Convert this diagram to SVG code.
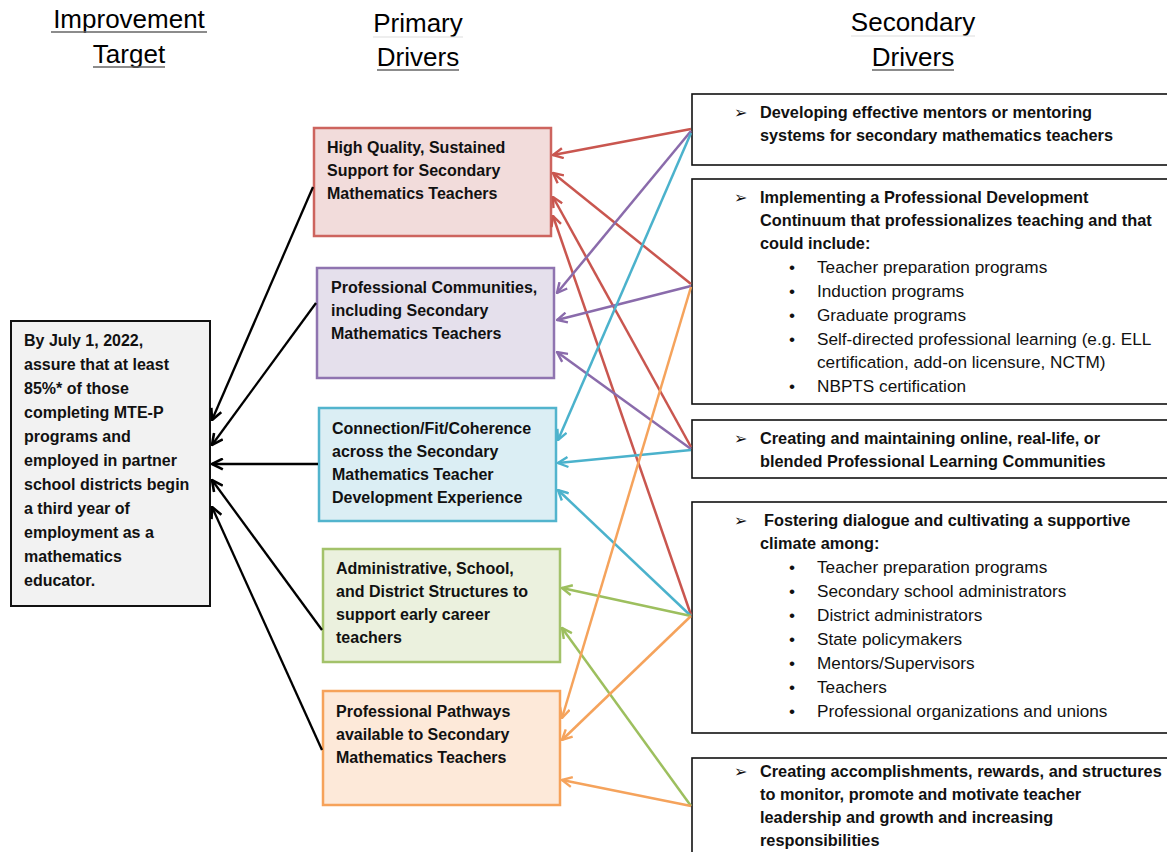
<svg xmlns="http://www.w3.org/2000/svg" width="1167" height="852" viewBox="0 0 1167 852">
<style>
.hdr{font-family:"Liberation Sans",Arial,sans-serif;font-size:26px;fill:#000}
.ul{stroke:#666;stroke-width:1.3}
.tb{font-family:"Liberation Sans",Arial,sans-serif;font-size:16px;font-weight:bold;fill:#111}
.sb{font-family:"Liberation Sans",Arial,sans-serif;font-size:16.3px;font-weight:bold;fill:#111}
.sr{font-family:"Liberation Sans",Arial,sans-serif;font-size:17.2px;fill:#111}
.arr{font-family:"DejaVu Sans",sans-serif;font-size:16px;fill:#111}
.sec{fill:#fff;stroke:#111;stroke-width:1.6}
.c{fill:none;stroke-width:2.5}
</style>
<defs>
<marker id="mk" viewBox="0 0 12 12" refX="11" refY="6" markerWidth="13" markerHeight="13" markerUnits="userSpaceOnUse" orient="auto"><path d="M1,1 L11,6 L1,11" fill="none" stroke="#000" stroke-width="2.4"/></marker>
<marker id="mr" viewBox="0 0 12 12" refX="11" refY="6" markerWidth="12" markerHeight="12" markerUnits="userSpaceOnUse" orient="auto"><path d="M1,1 L11,6 L1,11" fill="none" stroke="#c9564f" stroke-width="2.4"/></marker>
<marker id="mp" viewBox="0 0 12 12" refX="11" refY="6" markerWidth="12" markerHeight="12" markerUnits="userSpaceOnUse" orient="auto"><path d="M1,1 L11,6 L1,11" fill="none" stroke="#8a6bab" stroke-width="2.4"/></marker>
<marker id="mb" viewBox="0 0 12 12" refX="11" refY="6" markerWidth="12" markerHeight="12" markerUnits="userSpaceOnUse" orient="auto"><path d="M1,1 L11,6 L1,11" fill="none" stroke="#4bb2cc" stroke-width="2.4"/></marker>
<marker id="mg" viewBox="0 0 12 12" refX="11" refY="6" markerWidth="12" markerHeight="12" markerUnits="userSpaceOnUse" orient="auto"><path d="M1,1 L11,6 L1,11" fill="none" stroke="#9dbf5e" stroke-width="2.4"/></marker>
<marker id="mo" viewBox="0 0 12 12" refX="11" refY="6" markerWidth="12" markerHeight="12" markerUnits="userSpaceOnUse" orient="auto"><path d="M1,1 L11,6 L1,11" fill="none" stroke="#f5a35c" stroke-width="2.4"/></marker>
</defs>
<rect width="1167" height="852" fill="#fff"/>

<g id="headers">
<text class="hdr" x="129" y="28" text-anchor="middle">Improvement</text>
<line class="ul" x1="51" y1="32" x2="207" y2="32"/>
<text class="hdr" x="129" y="63" text-anchor="middle">Target</text>
<line class="ul" x1="93" y1="67" x2="165" y2="67"/>
<text class="hdr" x="418" y="32" text-anchor="middle">Primary</text>
<line stroke="#ddd" stroke-width="1" x1="373" y1="37" x2="463" y2="37"/>
<text class="hdr" x="418" y="66" text-anchor="middle">Drivers</text>
<line class="ul" x1="377" y1="70" x2="459" y2="70"/>
<text class="hdr" x="913" y="31" text-anchor="middle">Secondary</text>
<line stroke="#ddd" stroke-width="1" x1="851" y1="36" x2="975" y2="36"/>
<text class="hdr" x="913" y="66" text-anchor="middle">Drivers</text>
<line class="ul" x1="872" y1="70" x2="954" y2="70"/>
</g>

<g id="target">
<rect x="11" y="321" width="199" height="285" fill="#f2f2f2" stroke="#111" stroke-width="2"/>
<text class="tb" x="24">
<tspan x="24" y="346">By July 1, 2022,</tspan>
<tspan x="24" y="370">assure that at least</tspan>
<tspan x="24" y="394">85%* of those</tspan>
<tspan x="24" y="418">completing MTE-P</tspan>
<tspan x="24" y="442">programs and</tspan>
<tspan x="24" y="466">employed in partner</tspan>
<tspan x="24" y="490">school districts begin</tspan>
<tspan x="24" y="514">a third year of</tspan>
<tspan x="24" y="538">employment as a</tspan>
<tspan x="24" y="562">mathematics</tspan>
<tspan x="24" y="586">educator.</tspan>
</text>
</g>

<g id="p1">
<rect x="314" y="128" width="237" height="108" fill="#f2dcdb" stroke="#cd645e" stroke-width="2.5"/>
<text class="tb"><tspan x="327" y="153">High Quality, Sustained</tspan><tspan x="327" y="176">Support for Secondary</tspan><tspan x="327" y="199">Mathematics Teachers</tspan></text>
</g>
<g id="p2">
<rect x="317" y="268" width="237" height="110" fill="#e5e0ec" stroke="#8f74b0" stroke-width="2.5"/>
<text class="tb"><tspan x="331" y="293">Professional Communities,</tspan><tspan x="331" y="316">including Secondary</tspan><tspan x="331" y="339">Mathematics Teachers</tspan></text>
</g>
<g id="p3">
<rect x="319" y="408" width="237" height="113" fill="#dbeef4" stroke="#52b4cd" stroke-width="2.5"/>
<text class="tb"><tspan x="332" y="434">Connection/Fit/Coherence</tspan><tspan x="332" y="457">across the Secondary</tspan><tspan x="332" y="480">Mathematics Teacher</tspan><tspan x="332" y="503">Development Experience</tspan></text>
</g>
<g id="p4">
<rect x="323" y="549" width="237" height="113" fill="#ebf1de" stroke="#a3c26a" stroke-width="2.5"/>
<text class="tb"><tspan x="336" y="574">Administrative, School,</tspan><tspan x="336" y="597">and District Structures to</tspan><tspan x="336" y="620">support early career</tspan><tspan x="336" y="643">teachers</tspan></text>
</g>
<g id="p5">
<rect x="323" y="691" width="237" height="114" fill="#fde9d9" stroke="#f6a25a" stroke-width="2.5"/>
<text class="tb"><tspan x="336" y="717">Professional Pathways</tspan><tspan x="336" y="740">available to Secondary</tspan><tspan x="336" y="763">Mathematics Teachers</tspan></text>
</g>

<g id="s1">
<rect class="sec" x="692" y="94" width="480" height="71"/>
<text class="arr" x="734" y="118">➢</text>
<text class="sb"><tspan x="760" y="118">Developing effective mentors or mentoring</tspan><tspan x="760" y="141">systems for secondary mathematics teachers</tspan></text>
</g>
<g id="s2">
<rect class="sec" x="692" y="179" width="480" height="225"/>
<text class="arr" x="734" y="203">➢</text>
<text class="sb"><tspan x="760" y="203">Implementing a Professional Development</tspan><tspan x="760" y="226">Continuum that professionalizes teaching and that</tspan><tspan x="760" y="249">could include:</tspan></text>
<text class="sr"><tspan x="789" y="273">•</tspan><tspan x="817" y="273">Teacher preparation programs</tspan><tspan x="789" y="297">•</tspan><tspan x="817" y="297">Induction programs</tspan><tspan x="789" y="321">•</tspan><tspan x="817" y="321">Graduate programs</tspan><tspan x="789" y="345">•</tspan><tspan x="817" y="345">Self-directed professional learning (e.g. ELL</tspan><tspan x="817" y="368">certification, add-on licensure, NCTM)</tspan><tspan x="789" y="392">•</tspan><tspan x="817" y="392">NBPTS certification</tspan></text>
</g>
<g id="s3">
<rect class="sec" x="692" y="420" width="480" height="58"/>
<text class="arr" x="734" y="444">➢</text>
<text class="sb"><tspan x="760" y="444">Creating and maintaining online, real-life, or</tspan><tspan x="760" y="467">blended Professional Learning Communities</tspan></text>
</g>
<g id="s4">
<rect class="sec" x="692" y="502" width="480" height="231"/>
<text class="arr" x="734" y="526">➢</text>
<text class="sb"><tspan x="764" y="526">Fostering dialogue and cultivating a supportive</tspan><tspan x="760" y="549">climate among:</tspan></text>
<text class="sr"><tspan x="789" y="573">•</tspan><tspan x="817" y="573">Teacher preparation programs</tspan><tspan x="789" y="597">•</tspan><tspan x="817" y="597">Secondary school administrators</tspan><tspan x="789" y="621">•</tspan><tspan x="817" y="621">District administrators</tspan><tspan x="789" y="645">•</tspan><tspan x="817" y="645">State policymakers</tspan><tspan x="789" y="669">•</tspan><tspan x="817" y="669">Mentors/Supervisors</tspan><tspan x="789" y="693">•</tspan><tspan x="817" y="693">Teachers</tspan><tspan x="789" y="717">•</tspan><tspan x="817" y="717">Professional organizations and unions</tspan></text>
</g>
<g id="s5">
<rect class="sec" x="692" y="758" width="480" height="110"/>
<text class="arr" x="734" y="777">➢</text>
<text class="sb"><tspan x="760" y="777">Creating accomplishments, rewards, and structures</tspan><tspan x="760" y="800">to monitor, promote and motivate teacher</tspan><tspan x="760" y="823">leadership and growth and increasing</tspan><tspan x="760" y="846">responsibilities</tspan></text>
</g>

<g id="connectors">
<g stroke="#000" stroke-width="2.3" fill="none" marker-end="url(#mk)">
<line x1="313" y1="187" x2="212" y2="420"/>
<line x1="316" y1="303" x2="212" y2="445"/>
<line x1="318" y1="464" x2="212" y2="464"/>
<line x1="322" y1="630" x2="212" y2="480"/>
<line x1="322" y1="750" x2="212" y2="507"/>
</g>
<g class="c" stroke="#c9564f" marker-end="url(#mr)">
<line x1="691" y1="129" x2="553" y2="155"/>
<line x1="691" y1="284" x2="553" y2="173"/>
<line x1="691" y1="447" x2="553" y2="197"/>
<line x1="691" y1="615" x2="553" y2="216"/>
</g>
<g class="c" stroke="#8a6bab" marker-end="url(#mp)">
<line x1="691" y1="131" x2="557" y2="293"/>
<line x1="691" y1="286" x2="557" y2="320"/>
<line x1="691" y1="449" x2="557" y2="352"/>
</g>
<g class="c" stroke="#4bb2cc" marker-end="url(#mb)">
<line x1="691" y1="133" x2="558" y2="440"/>
<line x1="691" y1="450" x2="558" y2="463"/>
<line x1="691" y1="616" x2="558" y2="490"/>
</g>
<g class="c" stroke="#9dbf5e" marker-end="url(#mg)">
<line x1="691" y1="616" x2="562" y2="588"/>
<line x1="691" y1="806" x2="562" y2="628"/>
</g>
<g class="c" stroke="#f5a35c" marker-end="url(#mo)">
<line x1="691" y1="287" x2="562" y2="718"/>
<line x1="691" y1="616" x2="562" y2="740"/>
<line x1="691" y1="806" x2="562" y2="780"/>
</g>
</g>
</svg>
